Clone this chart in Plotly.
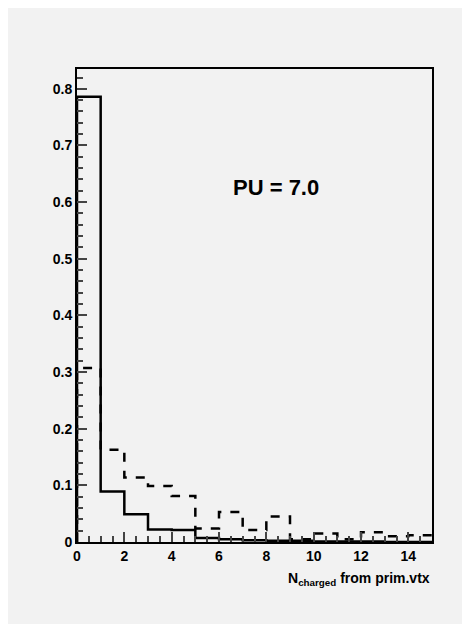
import plotly.graph_objects as go

bin_edges = list(range(0, 16))
solid_vals = [0.786, 0.089, 0.049, 0.022, 0.021, 0.007, 0.005, 0.003, 0.002, 0.002,
              0.001, 0.001, 0.001, 0.0, 0.0]
dashed_vals = [0.307, 0.163, 0.114, 0.099, 0.081, 0.024, 0.053, 0.021, 0.045, 0.005,
               0.015, 0.005, 0.017, 0.010, 0.012]
x_ticks = [0, 2, 4, 6, 8, 10, 12, 14]
y_ticks = [0, 0.1, 0.2, 0.3, 0.4, 0.5, 0.6, 0.7, 0.8]
y_tick_text = ["0", "0.1", "0.2", "0.3", "0.4", "0.5", "0.6", "0.7", "0.8"]


def step(vals):
    xs = [0] + bin_edges
    ys = [0] + vals + [vals[-1]]
    return xs, ys


fig = go.Figure()
xs, ys = step(dashed_vals)
fig.add_trace(go.Scatter(x=xs, y=ys, mode="lines", line_shape="hv",
                         line=dict(color="black", width=2.5, dash="dash")))
xs, ys = step(solid_vals)
fig.add_trace(go.Scatter(x=xs, y=ys, mode="lines", line_shape="hv",
                         line=dict(color="black", width=2.5)))

axis_font = dict(family="Liberation Sans, Arial", size=14, color="black", weight="bold")
fig.update_xaxes(range=[0, 15], tickvals=x_ticks, ticks="inside", ticklen=10,
                 tickwidth=2, showgrid=False, zeroline=False, showline=True,
                 linecolor="black", linewidth=2, mirror=True,
                 minor=dict(ticks="inside", ticklen=6, tickwidth=2, dtick=0.5),
                 tickfont=axis_font)
fig.update_yaxes(range=[0, 0.835], tickvals=y_ticks, ticktext=y_tick_text,
                 ticks="inside", ticklen=10, tickwidth=2, showgrid=False,
                 zeroline=False, showline=True, linecolor="black", linewidth=2,
                 mirror=True,
                 minor=dict(ticks="inside", ticklen=6, tickwidth=2, dtick=0.02),
                 tickfont=axis_font)

fig.add_annotation(text="<b>PU = 7.0</b>", x=0.56, y=0.78, xref="paper", yref="paper",
                   showarrow=False, font=dict(family="Liberation Sans, Arial", size=22,
                                              color="black"))
fig.add_annotation(text="<b>N<sub>charged</sub> from prim.vtx</b>", x=1.0, y=-0.055,
                   xref="paper", yref="paper", xanchor="right", yanchor="top",
                   showarrow=False, font=dict(family="Liberation Sans, Arial", size=14,
                                              color="black"))

fig.update_layout(width=470, height=624, showlegend=False,
                  paper_bgcolor="#f2f2f2", plot_bgcolor="#f2f2f2",
                  margin=dict(l=69, r=46, t=61, b=90))
fig.write_html("out.html")
